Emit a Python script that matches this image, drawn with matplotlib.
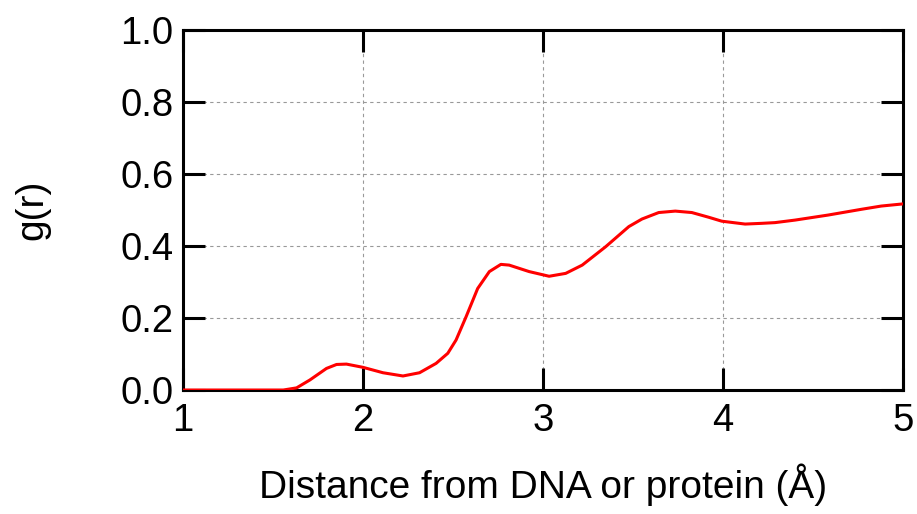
import matplotlib
matplotlib.use("Agg")
import matplotlib.pyplot as plt

r_values = [1.0, 1.3, 1.557, 1.631, 1.705, 1.797, 1.853, 1.908, 2.0, 2.111, 2.222, 2.314,
            2.406, 2.471, 2.517, 2.573, 2.637, 2.702, 2.766, 2.812, 2.923, 3.034, 3.126,
            3.218, 3.348, 3.477, 3.550, 3.643, 3.735, 3.827, 3.920, 3.993, 4.123, 4.215,
            4.289, 4.400, 4.584, 4.769, 4.879, 5.0]
g_values = [0.0, 0.0, 0.0, 0.006, 0.028, 0.060, 0.071, 0.072, 0.063, 0.048, 0.039, 0.048,
            0.074, 0.102, 0.139, 0.204, 0.282, 0.329, 0.349, 0.347, 0.329, 0.316, 0.324,
            0.347, 0.398, 0.454, 0.475, 0.493, 0.497, 0.493, 0.480, 0.469, 0.461, 0.463,
            0.465, 0.472, 0.486, 0.502, 0.511, 0.517]
x_ticks = [1, 2, 3, 4, 5]
y_ticks = [0.0, 0.2, 0.4, 0.6, 0.8, 1.0]
y_tick_labels = ["0.0", "0.2", "0.4", "0.6", "0.8", "1.0"]

plt.rcParams['font.family'] = ['Liberation Sans', 'DejaVu Sans']

fig = plt.figure(figsize=(9.17, 5.14), dpi=100)
ax = fig.add_axes([0.1996, 0.2412, 0.7851, 0.7004])

ax.plot(r_values, g_values, color='#ff0000', linewidth=2.2, zorder=3)

ax.set_xlim(1, 5)
ax.set_ylim(0, 1.0)
ax.set_xticks(x_ticks)
ax.set_yticks(y_ticks)
ax.set_yticklabels(y_tick_labels)

ax.grid(True, color='#999999', linestyle=(0, (3, 3)), linewidth=0.8)
for s in ax.spines.values():
    s.set_linewidth(2.2)
ax.tick_params(direction='in', length=16, width=2.2, top=True, right=True,
               labelsize=27.5)
ax.tick_params(axis='x', pad=9)
ax.tick_params(axis='y', pad=7)

ax.set_xlabel("Distance from DNA or protein (Å)", fontsize=28, labelpad=18)
ax.set_ylabel("g(r)", fontsize=28, labelpad=50)

fig.savefig("out.png", dpi=100)
